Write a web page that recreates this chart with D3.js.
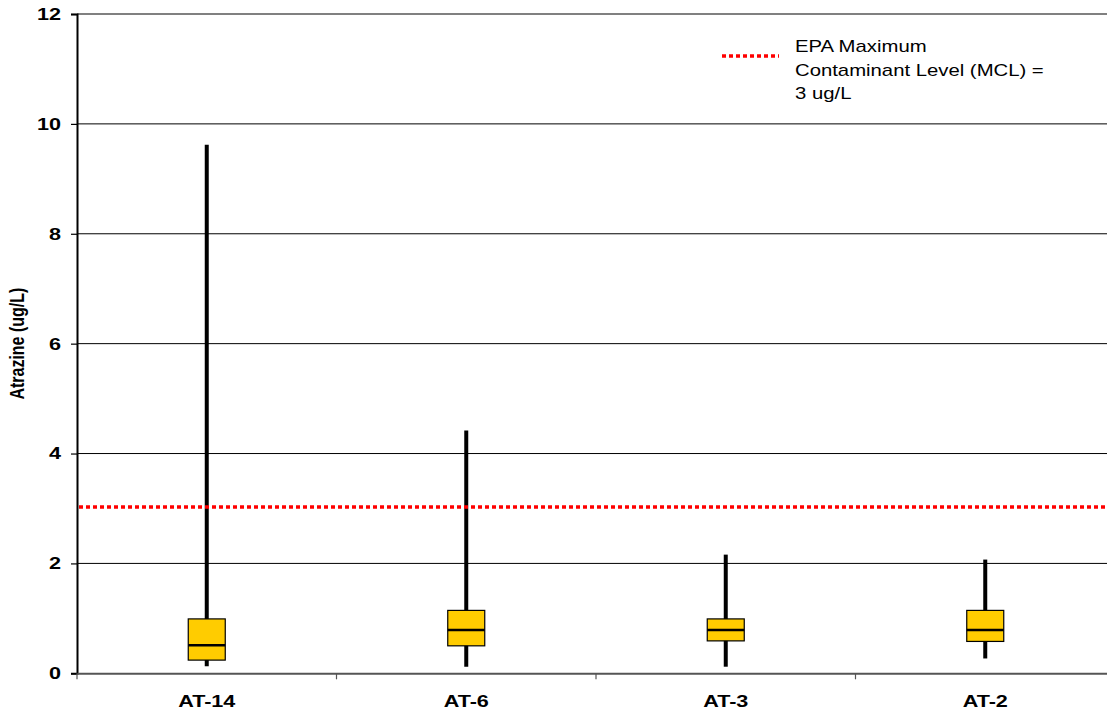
<!DOCTYPE html>
<html>
<head>
<meta charset="utf-8">
<script src="https://cdn.jsdelivr.net/npm/d3@7"></script>
<style>
  html, body { margin: 0; padding: 0; background: #fff; }
  svg { display: block; font-family: "Liberation Sans", Arial, sans-serif; }
</style>
</head>
<body>
<svg id="chart" width="1107" height="715"></svg>
<script>
// Atrazine concentrations per well: min, quartiles, median, max (ug/L)
const wells = ["AT-14", "AT-6", "AT-3", "AT-2"];
const minVals = [0.13, 0.12, 0.12, 0.27];
const q1Vals = [0.24, 0.50, 0.59, 0.58];
const medianVals = [0.51, 0.79, 0.79, 0.79];
const q3Vals = [0.99, 1.145, 0.99, 1.145];
const maxVals = [9.62, 4.42, 2.16, 2.07];
const yTicks = [0, 2, 4, 6, 8, 10, 12];
const mcl = 3;
const legendLines = ["EPA Maximum", "Contaminant Level (MCL) =", "3 ug/L"];

const svg = d3.select("#chart");
const plotLeft = 77, plotRight = 1115, plotTop = 14, plotBottom = 673.3;
const stretch = 1.27; // glyphs are drawn slightly wide

const x = d3.scaleBand().domain(wells).range([plotLeft, plotRight]).paddingInner(0).paddingOuter(0);
const y = d3.scaleLinear().domain([0, 12]).range([plotBottom, plotTop]);

// horizontal gridlines
svg.append("g")
  .selectAll("line")
  .data(yTicks.filter(t => t > 0 && t < 12))
  .join("line")
  .attr("x1", plotLeft).attr("x2", plotRight)
  .attr("y1", d => y(d)).attr("y2", d => y(d))
  .attr("stroke", "#000").attr("stroke-width", 1);

// top border of plot area
svg.append("line")
  .attr("x1", plotLeft).attr("x2", plotRight)
  .attr("y1", y(12)).attr("y2", y(12))
  .attr("stroke", "#808080").attr("stroke-width", 2);

// y axis
const yAxis = svg.append("g")
  .attr("transform", `translate(${plotLeft},0)`)
  .call(d3.axisLeft(y).tickValues(yTicks).tickSize(6).tickPadding(8).tickFormat(d3.format("d")));
yAxis.select(".domain").attr("stroke", "#000").attr("stroke-width", 2);
yAxis.selectAll(".tick line").attr("stroke", "#000").attr("stroke-width", 1.2);
yAxis.selectAll(".tick text")
  .attr("x", 0)
  .attr("transform", `translate(-16,0) scale(${stretch},1)`)
  .attr("font-size", 17).attr("font-weight", "bold").attr("fill", "#000")
  .attr("font-family", "Liberation Sans, Arial, sans-serif");

// x axis with ticks between categories
const xAxis = svg.append("g")
  .attr("transform", `translate(0,${plotBottom})`)
  .call(d3.axisBottom(x).tickSize(0).tickPadding(22));
xAxis.select(".domain").attr("stroke", "#555").attr("stroke-width", 2);
xAxis.selectAll(".tick text")
  .attr("transform", `scale(${stretch},1)`)
  .attr("font-size", 17).attr("font-weight", "bold").attr("fill", "#000")
  .attr("font-family", "Liberation Sans, Arial, sans-serif");
xAxis.append("g")
  .selectAll("line")
  .data(wells)
  .join("line")
  .attr("x1", d => x(d)).attr("x2", d => x(d))
  .attr("y1", 0).attr("y2", 6)
  .attr("stroke", "#555").attr("stroke-width", 1.2);

// y axis title
svg.append("text")
  .attr("transform", `translate(24,${(plotTop + plotBottom) / 2}) rotate(-90) scale(1,${stretch})`)
  .attr("text-anchor", "middle")
  .attr("font-size", 16).attr("font-weight", "bold")
  .text("Atrazine (ug/L)");

// whiskers and boxes
const boxW = 37;
const g = svg.append("g");
wells.forEach((w, i) => {
  const cx = x(w) + x.bandwidth() / 2;
  g.append("line")
    .attr("x1", cx).attr("x2", cx)
    .attr("y1", y(maxVals[i])).attr("y2", y(minVals[i]))
    .attr("stroke", "#000").attr("stroke-width", 4);
  g.append("rect")
    .attr("x", cx - boxW / 2).attr("width", boxW)
    .attr("y", y(q3Vals[i])).attr("height", y(q1Vals[i]) - y(q3Vals[i]))
    .attr("fill", "#FFCC00").attr("stroke", "#000").attr("stroke-width", 1.2);
  g.append("line")
    .attr("x1", cx - boxW / 2).attr("x2", cx + boxW / 2)
    .attr("y1", y(medianVals[i])).attr("y2", y(medianVals[i]))
    .attr("stroke", "#000").attr("stroke-width", 2.5);
});

// MCL reference line
svg.append("line")
  .attr("x1", plotLeft + 2).attr("x2", plotRight)
  .attr("y1", y(mcl) - 1.5).attr("y2", y(mcl) - 1.5)
  .attr("stroke", "#FF0000").attr("stroke-width", 3.5)
  .attr("stroke-dasharray", "4,3");

// legend
const lg = svg.append("g");
lg.append("line")
  .attr("x1", 722).attr("x2", 779).attr("y1", 56).attr("y2", 56)
  .attr("stroke", "#FF0000").attr("stroke-width", 3.5)
  .attr("stroke-dasharray", "4,3");
lg.selectAll("text")
  .data(legendLines)
  .join("text")
  .attr("transform", (d, i) => `translate(795,${52 + i * 23.5}) scale(${stretch},1)`)
  .attr("font-size", 16)
  .attr("fill", "#000")
  .text(d => d);
</script>
</body>
</html>
